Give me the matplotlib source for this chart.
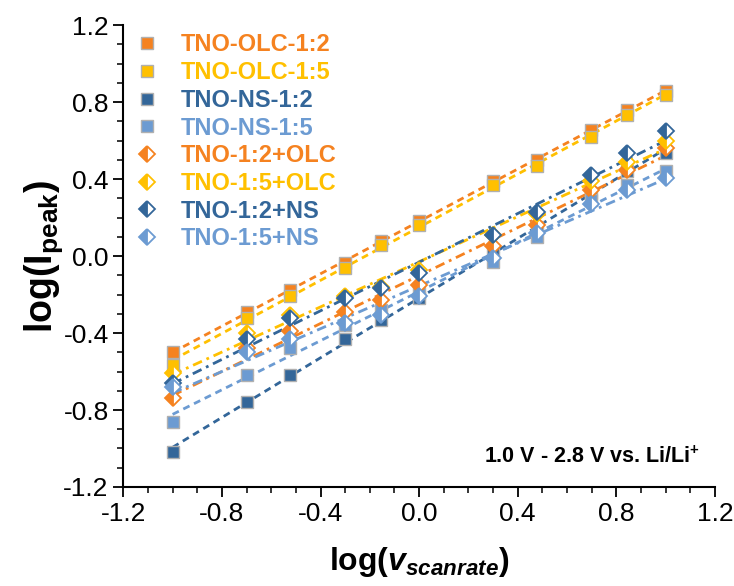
import numpy as np
import matplotlib
matplotlib.use("Agg")
import matplotlib.pyplot as plt
from matplotlib.lines import Line2D
from matplotlib.ticker import MultipleLocator

plt.rcParams['font.family'] = ['Liberation Sans', 'DejaVu Sans']
plt.rcParams['mathtext.fontset'] = 'custom'
plt.rcParams['mathtext.rm'] = 'Liberation Sans:bold'
plt.rcParams['mathtext.it'] = 'Liberation Sans:italic:bold'
plt.rcParams['mathtext.bf'] = 'Liberation Sans:bold'

# ---- data ----
scan_rates = [0.1, 0.2, 0.3, 0.5, 0.7, 1, 2, 3, 5, 7, 10]
log_v = np.log10(scan_rates)

labels = ['TNO-OLC-1:2', 'TNO-OLC-1:5', 'TNO-NS-1:2', 'TNO-NS-1:5',
          'TNO-1:2+OLC', 'TNO-1:5+OLC', 'TNO-1:2+NS', 'TNO-1:5+NS']

olc_12 = [-0.50, -0.29, -0.175, -0.036, 0.077, 0.18, 0.39, 0.50, 0.655, 0.76, 0.86]
olc_15 = [-0.565, -0.32, -0.21, -0.06, 0.06, 0.16, 0.37, 0.47, 0.62, 0.735, 0.835]
ns_12 = [-1.02, -0.76, -0.617, -0.43, -0.33, -0.22, 0.02, 0.15, 0.33, 0.44, 0.535]
ns_15 = [-0.86, -0.617, -0.48, -0.36, -0.28, -0.19, -0.03, 0.10, 0.29, 0.37, 0.44]
mix_12_olc = [-0.74, -0.48, -0.39, -0.29, -0.227, -0.15, 0.05, 0.16, 0.345, 0.45, 0.56]
mix_15_olc = [-0.61, -0.40, -0.305, -0.21, -0.16, -0.07, 0.11, 0.22, 0.39, 0.49, 0.60]
mix_12_ns = [-0.66, -0.43, -0.32, -0.22, -0.166, -0.09, 0.11, 0.23, 0.42, 0.535, 0.65]
mix_15_ns = [-0.68, -0.50, -0.43, -0.35, -0.305, -0.21, -0.01, 0.12, 0.27, 0.345, 0.405]

series = [olc_12, olc_15, ns_12, ns_15, mix_12_olc, mix_15_olc, mix_12_ns, mix_15_ns]

colors = ['#F58220', '#FFC000', '#336699', '#6C9BD2',
          '#F58220', '#FFC000', '#336699', '#6C9BD2']
is_square = [True, True, True, True, False, False, False, False]

fig = plt.figure(figsize=(7.34, 5.86), dpi=100)
ax = fig.add_axes([0.168, 0.169, 0.806, 0.788])

xfit = np.array([-1.0, 1.0])
handles = []
for ys, lab, c, sq in zip(series, labels, colors, is_square):
    ys = np.array(ys)
    p = np.polyfit(log_v, ys, 1)
    if sq:
        ax.plot(xfit, np.polyval(p, xfit), color=c, lw=2.0,
                dashes=(2.5, 1.8), zorder=2)
    else:
        ax.plot(xfit, np.polyval(p, xfit), color=c, lw=2.0,
                dashes=(3.5, 1.8, 1.0, 1.8), zorder=2)
for ys, lab, c, sq in zip(series, labels, colors, is_square):
    if sq:
        kw = dict(marker='s', markersize=8.5, markerfacecolor=c,
                  markeredgecolor='#B0B0B0', markeredgewidth=1.0)
    else:
        kw = dict(marker='D', markersize=8.5, markerfacecolor=c,
                  fillstyle='left', markerfacecoloralt='white',
                  markeredgecolor=c, markeredgewidth=1.3)
    ax.plot(log_v, ys, linestyle='none', zorder=3 if sq else 4, **kw)
    handles.append(Line2D([], [], linestyle='none', label=lab, **kw))

leg = ax.legend(handles=handles, loc='upper left', bbox_to_anchor=(-0.012, 1.018),
                frameon=False, prop={'weight': 'bold', 'size': 17},
                labelspacing=0.2, handletextpad=0.85, handlelength=1.2,
                borderaxespad=0.3, labelcolor=colors)

ax.text(0.975, 0.065, r'1.0 V - 2.8 V vs. Li/Li$^{+}$', transform=ax.transAxes,
        ha='right', va='center', fontsize=15.5, fontweight='bold')

ax.set_xlim(-1.2, 1.2)
ax.set_ylim(-1.2, 1.2)
ax.xaxis.set_major_locator(MultipleLocator(0.4))
ax.xaxis.set_minor_locator(MultipleLocator(0.1))
ax.yaxis.set_major_locator(MultipleLocator(0.4))
ax.yaxis.set_minor_locator(MultipleLocator(0.1))
ax.xaxis.set_major_formatter(matplotlib.ticker.FormatStrFormatter('%.1f'))
ax.yaxis.set_major_formatter(matplotlib.ticker.FormatStrFormatter('%.1f'))
ax.tick_params(which='major', direction='out', length=7, width=1.3, labelsize=19)
ax.tick_params(which='minor', direction='out', length=4, width=1.1)
for s in ['top', 'right']:
    ax.spines[s].set_visible(False)
for s in ['left', 'bottom']:
    ax.spines[s].set_linewidth(1.5)

ax.set_ylabel(r'log(I$_{\mathrm{peak}}$)', fontsize=27, fontweight='bold', labelpad=-1)
ax.set_xlabel(r'log($v_{scanrate}$)', fontsize=23, fontweight='bold', labelpad=14)

fig.savefig('out.png', dpi=100)
